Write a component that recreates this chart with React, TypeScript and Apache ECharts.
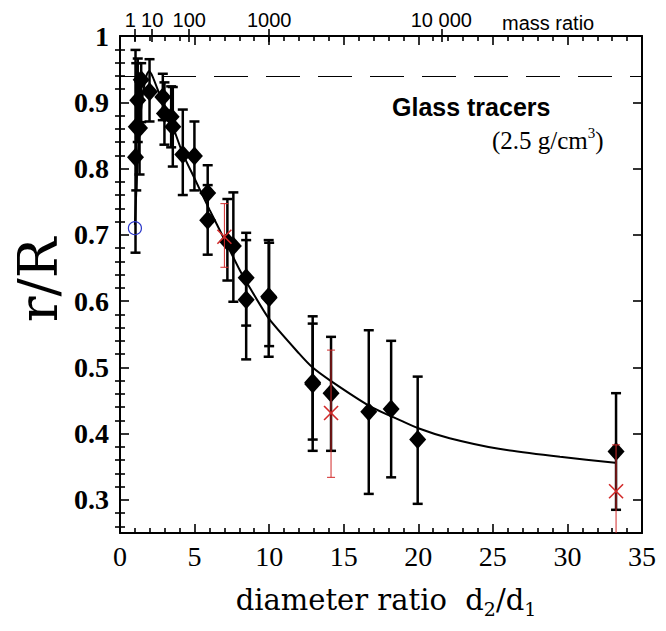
import React, { useEffect, useRef } from 'react';
import * as echarts from 'echarts';

// ---- data ----
// black diamonds: diameter ratio, r/R, error low, error high
const blackD = [1.04, 1.09, 1.31, 1.19, 1.42, 1.98, 2.87, 2.98, 3.43, 3.54, 4.21, 4.99, 5.88, 5.88, 7.2, 7.6, 8.46, 8.46, 9.97, 10.0, 12.92, 12.92, 14.15, 16.68, 18.18, 19.96, 33.26];
const blackR = [0.817, 0.863, 0.861, 0.903, 0.934, 0.916, 0.908, 0.883, 0.878, 0.863, 0.821, 0.819, 0.763, 0.722, 0.69, 0.683, 0.635, 0.602, 0.607, 0.605, 0.477, 0.475, 0.461, 0.433, 0.437, 0.391, 0.373];
const blackLo = [0.673, 0.767, 0.791, 0.84, 0.87, 0.871, 0.873, 0.836, 0.832, 0.803, 0.76, 0.767, 0.721, 0.67, 0.631, 0.599, 0.563, 0.512, 0.516, 0.532, 0.374, 0.391, 0.374, 0.309, 0.334, 0.294, 0.285];
const blackHi = [0.979, 0.959, 0.931, 0.966, 0.959, 0.965, 0.943, 0.93, 0.924, 0.923, 0.889, 0.871, 0.805, 0.775, 0.754, 0.764, 0.703, 0.692, 0.692, 0.688, 0.577, 0.566, 0.546, 0.556, 0.54, 0.486, 0.461];

// red crosses
const redD = [7.0, 14.15, 33.26];
const redR = [0.697, 0.431, 0.313];
const redLo = [0.651, 0.334, 0.243];
const redHi = [0.747, 0.526, 0.383];

// blue open circle
const blueD = [1.0];
const blueR = [0.71];

// fitted curve
const curveD = [1.0, 1.1, 1.3, 1.55, 1.8, 1.95, 2.2, 2.6, 3.0, 3.5, 4.2, 5.0, 6.0, 7.0, 8.0, 8.5, 10, 12, 12.9, 14.1, 16.7, 18.2, 20, 22.1, 25.4, 29.5, 33.2];
const curveR = [0.715, 0.77, 0.86, 0.915, 0.942, 0.947, 0.938, 0.915, 0.893, 0.866, 0.823, 0.785, 0.738, 0.693, 0.648, 0.628, 0.573, 0.521, 0.5, 0.48, 0.442, 0.426, 0.408, 0.393, 0.377, 0.365, 0.356];

const dashedLevel = 0.94;

// tick labels
const massRatios = [1, 10, 100, 1000, 10000];
const massLabels = ['1', '10', '100', '1000', '10 000'];
const yMajor = [0.3, 0.4, 0.5, 0.6, 0.7, 0.8, 0.9, 1.0];
const yMinor: number[] = [];
for (let i = 13; i < 50; i++) {
  const v = Math.round(i * 2) / 100;
  if (Math.round(v * 100) % 10 !== 0) yMinor.push(v);
}
const massPos = massRatios.map((m) => Math.cbrt(m));

const BLACK = '#000';
const RED = '#d22a2a';
const BLUE = '#2a36c8';
const SERIF = '"Liberation Serif", serif';
const DSERIF = '"DejaVu Serif", serif';
const SANS = '"Liberation Sans", Arial, sans-serif';

function errorBarRender(color: string, width: number, capHalf: number) {
  return (params: any, api: any) => {
    const x = api.value(0);
    const lo = api.value(1);
    const hi = api.value(2);
    const pLo = api.coord([x, lo]);
    const pHi = api.coord([x, hi]);
    const style = { stroke: color, lineWidth: width };
    return {
      type: 'group',
      children: [
        { type: 'line', shape: { x1: pLo[0], y1: pLo[1], x2: pHi[0], y2: pHi[1] }, style },
        { type: 'line', shape: { x1: pLo[0] - capHalf, y1: pLo[1], x2: pLo[0] + capHalf, y2: pLo[1] }, style },
        { type: 'line', shape: { x1: pHi[0] - capHalf, y1: pHi[1], x2: pHi[0] + capHalf, y2: pHi[1] }, style },
      ],
    };
  };
}

function crossRender(params: any, api: any) {
  const p = api.coord([api.value(0), api.value(1)]);
  const h = 7;
  const style = { stroke: RED, lineWidth: 1.6 };
  return {
    type: 'group',
    children: [
      { type: 'line', shape: { x1: p[0] - h, y1: p[1] - h, x2: p[0] + h, y2: p[1] + h }, style },
      { type: 'line', shape: { x1: p[0] - h, y1: p[1] + h, x2: p[0] + h, y2: p[1] - h }, style },
    ],
  };
}

export default function App() {
  const ref = useRef<HTMLDivElement>(null);
  useEffect(() => {
    const chart = echarts.init(ref.current!, null, { renderer: 'svg' });
    const axisLine = { show: true, onZero: false, lineStyle: { color: BLACK, width: 2 } };
    const xBase = {
      type: 'value',
      min: 0,
      max: 35,
      interval: 5,
      splitLine: { show: false },
      axisLine,
      axisTick: { show: true, inside: true, length: 9, lineStyle: { color: BLACK, width: 1.6 } },
      minorTick: { show: true, splitNumber: 5, length: 5, lineStyle: { color: BLACK, width: 1.6 } },
    };
    const yBase = {
      type: 'value',
      min: 0.25,
      max: 1,
      splitLine: { show: false },
    };
    const option: any = {
      animation: false,
      grid: { left: 120, right: 24, top: 36, bottom: 98, containLabel: false },
      xAxis: [
        {
          ...xBase,
          position: 'bottom',
          axisLabel: { color: BLACK, fontFamily: SERIF, fontSize: 28, margin: 9 },
        },
        { ...xBase, position: 'top', axisLabel: { show: false } },
        {
          type: 'value',
          position: 'top',
          min: 0,
          max: 35,
          splitLine: { show: false },
          axisLine: { show: false },
          axisTick: { show: true, inside: false, length: 7, customValues: massPos, lineStyle: { color: BLACK, width: 1.6 } },
          axisLabel: {
            show: true,
            customValues: massPos,
            margin: 6,
            color: BLACK,
            fontFamily: SANS,
            fontSize: 20,
            rich: {
              first: { fontFamily: SANS, fontSize: 20, color: BLACK, padding: [0, 9, 0, 0] },
            },
            formatter: (v: number) => {
              let best = 0;
              for (let i = 0; i < massPos.length; i++) if (Math.abs(massPos[i] - v) < Math.abs(massPos[best] - v)) best = i;
              return best === 0 ? '{first|' + massLabels[best] + '}' : massLabels[best];
            },
          },
        },
        {
          type: 'value',
          position: 'top',
          min: 0,
          max: 35,
          splitLine: { show: false },
          axisLine: { show: false },
          axisTick: { show: true, inside: true, length: 6, customValues: massPos, lineStyle: { color: BLACK, width: 1.6 } },
          axisLabel: { show: false },
        },
      ],
      yAxis: [
        {
          ...yBase,
          position: 'left',
          axisLine,
          axisTick: { show: true, inside: true, length: 9, customValues: yMajor, lineStyle: { color: BLACK, width: 1.6 } },
          axisLabel: {
            customValues: yMajor,
            color: BLACK,
            fontFamily: SERIF,
            fontWeight: 'bold',
            fontSize: 28,
            margin: 11,
            formatter: (v: number) => (Math.abs(v - 1) < 1e-9 ? '1' : v.toFixed(1)),
          },
        },
        {
          ...yBase,
          position: 'left',
          axisLine: { show: false },
          axisTick: { show: true, inside: true, length: 5, customValues: yMinor, lineStyle: { color: BLACK, width: 1.6 } },
          axisLabel: { show: false },
        },
        {
          ...yBase,
          position: 'right',
          axisLine,
          axisTick: { show: true, inside: true, length: 9, customValues: yMajor, lineStyle: { color: BLACK, width: 1.6 } },
          axisLabel: { show: false },
        },
        {
          ...yBase,
          position: 'right',
          axisLine: { show: false },
          axisTick: { show: true, inside: true, length: 5, customValues: yMinor, lineStyle: { color: BLACK, width: 1.6 } },
          axisLabel: { show: false },
        },
      ],
      series: [
        {
          type: 'line',
          data: curveD.map((d, i) => [d, curveR[i]]),
          showSymbol: false,
          smooth: 0.2,
          lineStyle: { color: BLACK, width: 2 },
          z: 1,
          markLine: {
            silent: true,
            symbol: 'none',
            label: { show: false },
            lineStyle: { color: BLACK, width: 1.2, type: [34, 18], dashOffset: 9.5 },
            data: [{ yAxis: dashedLevel }],
          },
        },
        {
          type: 'custom',
          renderItem: errorBarRender(BLACK, 2.5, 5),
          data: blackD.map((d, i) => [d, blackLo[i], blackHi[i]]),
          encode: { x: 0, y: [1, 2] },
          clip: true,
          z: 2,
        },
        {
          type: 'scatter',
          data: blackD.map((d, i) => [d, blackR[i]]),
          symbol: 'diamond',
          symbolSize: [17, 19],
          itemStyle: { color: BLACK, opacity: 1 },
          z: 3,
        },
        {
          type: 'custom',
          renderItem: errorBarRender(RED, 1, 4),
          data: redD.map((d, i) => [d, redLo[i], redHi[i]]),
          encode: { x: 0, y: [1, 2] },
          clip: true,
          z: 4,
        },
        {
          type: 'custom',
          renderItem: crossRender,
          data: redD.map((d, i) => [d, redR[i]]),
          encode: { x: 0, y: 1 },
          clip: true,
          z: 5,
        },
        {
          type: 'scatter',
          data: blueD.map((d, i) => [d, blueR[i]]),
          symbol: 'circle',
          symbolSize: 13,
          itemStyle: { color: 'rgba(0,0,0,0)', borderColor: BLUE, borderWidth: 1.2, opacity: 1 },
          z: 5,
        },
      ],
      graphic: [
        {
          type: 'text',
          x: 392,
          y: 107,
          style: { text: 'Glass tracers', fontFamily: SANS, fontWeight: 'bold', fontSize: 25, fill: BLACK, textVerticalAlign: 'middle' },
        },
        {
          type: 'text',
          x: 492,
          y: 140,
          style: {
            text: '{a|(2.5 g/cm}{s|3}{a|)}',
            fill: BLACK,
            textVerticalAlign: 'middle',
            rich: {
              a: { fontFamily: SERIF, fontSize: 25, lineHeight: 30, fill: BLACK },
              s: { fontFamily: SERIF, fontSize: 15, lineHeight: 16, verticalAlign: 'top', fill: BLACK },
            },
          },
        },
        {
          type: 'text',
          x: 502,
          y: 23,
          style: { text: 'mass ratio', fontFamily: SANS, fontSize: 20, fill: BLACK, textVerticalAlign: 'middle' },
        },
        {
          type: 'text',
          x: 38,
          y: 280,
          rotation: Math.PI / 2,
          style: { text: 'r/R', fontFamily: DSERIF, fontSize: 54, fill: BLACK, textAlign: 'center', textVerticalAlign: 'middle' },
        },
        {
          type: 'text',
          x: 386,
          y: 600,
          style: {
            text: '{a|diameter ratio  d}{s|2}{a|/d}{s|1}',
            textAlign: 'center',
            textVerticalAlign: 'middle',
            fill: BLACK,
            rich: {
              a: { fontFamily: DSERIF, fontSize: 29, lineHeight: 36, fill: BLACK },
              s: { fontFamily: DSERIF, fontSize: 19, lineHeight: 19, verticalAlign: 'bottom', fill: BLACK },
            },
          },
        },
      ],
    };
    chart.setOption(option);
    return () => chart.dispose();
  }, []);
  return <div ref={ref} style={{ position: 'absolute', left: 0, top: 0, width: 666, height: 631 }} />;
}
